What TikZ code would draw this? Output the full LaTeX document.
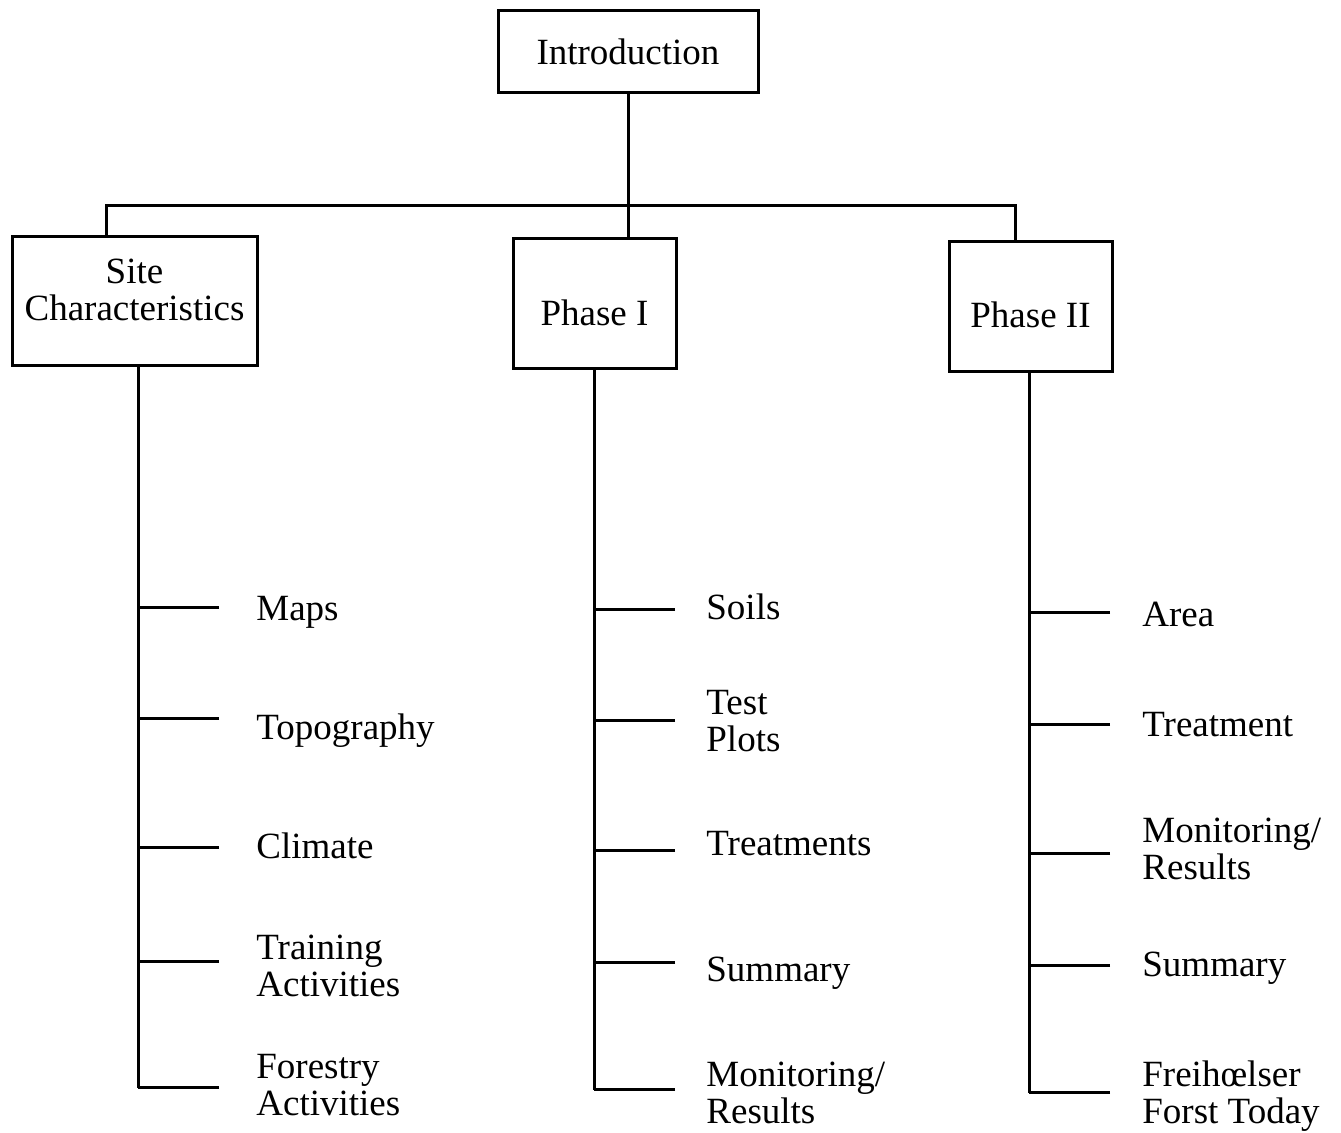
\documentclass[tikz,border=0pt]{standalone}
\usepackage{fontspec}
\setmainfont{Liberation Serif}
\begin{document}
\begin{tikzpicture}[x=0.5pt,y=-0.5pt]
\tikzstyle{every node}+=[inner sep=0pt, font=\fontsize{18.5}{18.5}\selectfont]
\tikzstyle{box}=[draw=black, line width=1.5pt, align=center]
\tikzstyle{leaf}=[anchor=base west, align=left]
\tikzstyle{wire}=[black, line width=1.5pt]
\useasboundingbox (0,0) rectangle (1341,1133);
\node [box, minimum width=130pt, minimum height=41pt] (intro) at (628,52) {Introduction};
\node [box, minimum width=122.5pt, minimum height=64.5pt,
  label={[yshift=5.75pt, align=center]center:Site\\Characteristics}] (site) at (134.5,301.5) {};
\node [box, minimum width=81.5pt, minimum height=65pt,
  label={[yshift=-4.25pt]center:Phase I}] (phase1) at (594.5,304) {};
\node [box, minimum width=81.5pt, minimum height=65pt,
  label={[yshift=-3.75pt]center:Phase II}] (phase2) at (1030.5,307) {};
% top bar
\coordinate (barL) at (106,206);
\coordinate (barR) at (1015,206);
\draw [wire] (intro.south) -- (phase1.north -| intro.south);
\draw [wire] (site.north -| barL) -- (barL) -- (barR) -- (phase2.north -| barR);
% spines
\coordinate (sspine) at (138,1088);
\coordinate (pspine) at (594,1090);
\coordinate (qspine) at (1029,1093);
\draw [wire] (site.south -| sspine) -- (sspine);
\draw [wire] (phase1.south -| pspine) -- (pspine);
\draw [wire] (phase2.south -| qspine) -- (qspine);
% site characteristics (y = baseline of last line)
\foreach \n/\y/\b/\t in {1/621/608/Maps, 2/740/719/Topography, 3/859/848/Climate,
    4/997/962/{Training\\Activities}, 5/1116/1088/{Forestry\\Activities}} {
  \node [leaf] (s\n) at (256,\y) {\t};
  \coordinate (sb\n) at (219,\b);
  \draw [wire] (sb\n) -- (sb\n -| sspine);
}
% phase I
\foreach \n/\y/\b/\t in {1/620/610/Soils, 2/752/721/{Test\\Plots}, 3/856/851/Treatments,
    4/982/963/Summary, 5/1124/1090/{Monitoring/\\Results}} {
  \node [leaf] (p\n) at (706,\y) {\t};
  \coordinate (pb\n) at (675,\b);
  \draw [wire] (pb\n) -- (pb\n -| pspine);
}
% phase II
\foreach \n/\y/\b/\t in {1/627/613/Area, 2/737/725/Treatment, 3/880/854/{Monitoring/\\Results},
    4/977/966/Summary, 5/1124/1093/{Freih\oe lser\\Forst Today}} {
  \node [leaf] (q\n) at (1142,\y) {\t};
  \coordinate (qb\n) at (1110,\b);
  \draw [wire] (qb\n) -- (qb\n -| qspine);
}
\end{tikzpicture}
\end{document}
